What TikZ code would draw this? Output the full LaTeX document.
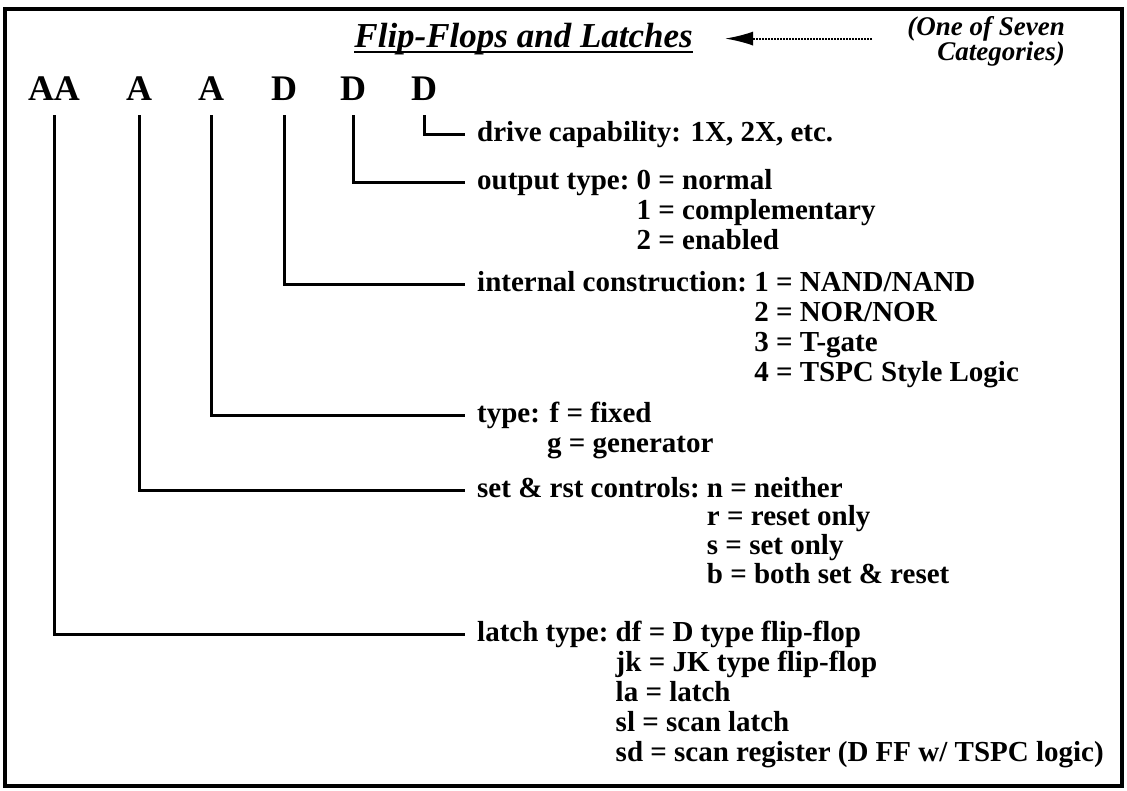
\documentclass[tikz,border=0pt]{standalone}
\usepackage{fontspec}
\setmainfont{Liberation Serif}
\usetikzlibrary{arrows.meta}
\tikzset{
  letter/.style={font=\fontsize{36}{36}\selectfont\bfseries, inner sep=0pt, anchor=base},
  lbl/.style={font=\fontsize{29}{30}\selectfont\bfseries, inner sep=0pt, anchor=base west},
  conn/.style={line width=3pt, shorten <=15pt, shorten >=12pt},
  frame/.style={line width=3.5pt},
}
\begin{document}
\begin{tikzpicture}[x=1pt,y=-1pt]
\useasboundingbox (0,0) rectangle (1127,790);
\draw[frame] (5,9) rectangle (1122,786);

% title and category note
\node[font=\fontsize{35}{35}\selectfont\bfseries\itshape, inner sep=0pt, anchor=base east] (title) at (693,47) {Flip-Flops and Latches};
\draw[line width=2.5pt] ([yshift=-5pt]title.base west) -- ([yshift=-5pt]title.base east);
\node[font=\fontsize{27}{23}\selectfont\bfseries\itshape, inner sep=0pt, anchor=base east] (cat) at (1065,35)
  {\begin{tabular}[t]{@{}r@{}}(One of Seven\\Categories)\end{tabular}};
\draw[line width=2pt, dash pattern=on 1.8pt off 1.2pt, -{Latex[length=28pt,width=14pt]}, shorten <=35pt, shorten >=32pt]
  (cat.west |- title.east) -- (title.east);

% code letters
\node[letter] (aa) at (54,100) {AA};
\node[letter] (a1) at (139,100) {A};
\node[letter] (a2) at (211,100) {A};
\node[letter] (d1) at (284,100) {D};
\node[letter] (d2) at (353,100) {D};
\node[letter] (d3) at (424,100) {D};

% labels
\node[lbl] (drv) at (477,141) {drive capability: 1X, 2X, etc.};
\node[lbl] (out) at (477,189) {\begin{tabular}[t]{@{}l@{}l@{}}output type:~ & 0 = normal\\ & 1 = complementary\\ & 2 = enabled\end{tabular}};
\node[lbl] (int) at (477,291) {\begin{tabular}[t]{@{}l@{}l@{}}internal construction:~ & 1 = NAND/NAND\\ & 2 = NOR/NOR\\ & 3 = T-gate\\ & 4 = TSPC Style Logic\end{tabular}};
\node[lbl] (typ) at (477,422) {\begin{tabular}[t]{@{}l@{}}type: f = fixed\\\hspace*{70pt}g = generator\end{tabular}};
\node[lbl] (sr) at (477,497) {\renewcommand\arraystretch{0.95}\begin{tabular}[t]{@{}l@{}l@{}}set \& rst controls:~ & n = neither\\ & r = reset only\\ & s = set only\\ & b = both set \& reset\end{tabular}};
\node[lbl] (lt) at (477,641) {\begin{tabular}[t]{@{}l@{}l@{}}latch type:~ & df = D type flip-flop\\ & jk = JK type flip-flop\\ & la = latch\\ & sl = scan latch\\ & sd = scan register (D FF w/ TSPC logic)\end{tabular}};

% connectors
\draw[conn] (d3.south) |- ([yshift=7pt]drv.base west);
\draw[conn] (d2.south) |- ([yshift=7pt]out.base west);
\draw[conn] (d1.south) |- ([yshift=7pt]int.base west);
\draw[conn] (a2.south) |- ([yshift=7pt]typ.base west);
\draw[conn] (a1.south) |- ([yshift=7pt]sr.base west);
\draw[conn] (aa.south) |- ([yshift=7pt]lt.base west);
\end{tikzpicture}
\end{document}
